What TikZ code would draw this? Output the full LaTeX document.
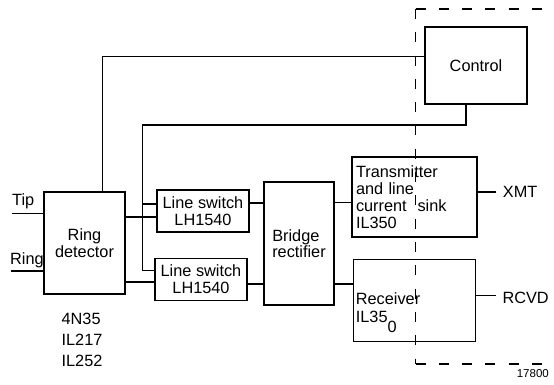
\documentclass[tikz,border=0pt]{standalone}
\usepackage{fontspec}
\setmainfont{Liberation Sans}
\usetikzlibrary{positioning}

\begin{document}
\begin{tikzpicture}[x=1pt, y=-1pt, node distance=20pt,
        block/.style={rectangle, draw, line width=1.2pt, align=center, inner sep=2pt, font=\fontsize{16.3}{16.5}\selectfont},
        tag/.style={inner sep=0pt, font=\fontsize{16.3}{16.5}\selectfont},
        wire/.style={line width=1.2pt},
        border/.style={line width=1.2pt, dash pattern=on 10pt off 13.3pt}]

        \useasboundingbox (0,0) rectangle (554,385);

        \node[block, minimum width=102pt, minimum height=77pt] (ctrl) at (476,65.5) {Control};
        \node[block, minimum width=81pt, minimum height=102pt] (ring) at (84.5,243) {Ring\\detector};
        \node[block, minimum width=92pt, minimum height=42pt, font=\fontsize{16.3}{17.5}\selectfont] (sw1) at (203,211) {Line switch\\LH1540};
        \node[block, minimum width=92pt, minimum height=42pt, font=\fontsize{16.3}{17.5}\selectfont, below=25pt of sw1, xshift=-2pt] (sw2) {Line switch\\LH1540};
        \node[block, minimum width=70pt, minimum height=123pt, align=left] (bridge) at (299,243.5) {Bridge\\rectifier};
        \node[block, minimum width=125pt, minimum height=80pt, align=left, text width=117pt, font=\fontsize{16.3}{17}\selectfont] (tx) at (414.5,197) {Transmitter\\and line\\current\ \ sink\\IL350};
        \node[block, minimum width=122pt, minimum height=82pt, below=21pt of tx] (rx) {};
        \node[tag, anchor=north west, align=left, font=\fontsize{16.3}{17.5}\selectfont] (rxtext) at (355.7,292.5) {Receiver\\IL35\raisebox{-10pt}{0}};

        \node[tag, anchor=base west] (tiplbl) at (12,205) {Tip};
        \node[tag, anchor=base west] (ringlbl) at (10,264.3) {Ring};
        \node[tag, anchor=west] (xmt) at (502.7,192) {XMT};
        \node[tag, anchor=west] (rcvd) at (502.3,297.5) {RCVD};
        \node[tag, align=left, font=\fontsize{16.3}{21}\selectfont] (parts) at (82,340) {4N35\\IL217\\IL252};
        \node[tag, anchor=east, font=\fontsize{11.5}{12}\selectfont] (figno) at (549,374) {17800};

        \coordinate (tipend) at (12,213.7);
        \coordinate (ringend) at (11,271);
        \coordinate (bus) at (142.5,125);
        \coordinate (r1) at ([yshift=26pt]ring.east);
        \coordinate (r2) at ([yshift=-39pt]ring.east);
        \coordinate (s1) at ([yshift=8pt]sw1.east);
        \coordinate (s2) at ([yshift=-4.7pt]sw2.east);
        \coordinate (b1) at ([yshift=-5.7pt]tx.west);
        \coordinate (b2) at ([yshift=16.3pt]rx.west);
        \coordinate (x1) at ([yshift=5pt]tx.east);
        \coordinate (x2) at ([yshift=4.7pt]rx.east);
        \coordinate (xmtend) at ([xshift=-7pt]xmt.west);
        \coordinate (rcvdend) at ([xshift=-6pt]rcvd.west);

        \draw[wire] (tipend) -- (tipend -| ring.west);
        \draw[wire] (ringend) -- (ringend -| ring.west);
        \draw[wire] ([yshift=9pt]ctrl.west) -| ([xshift=18pt]ring.north);
        \draw[wire] ([xshift=-10pt]ctrl.south) |- (bus) |- ([yshift=9pt]sw2.west);
        \draw[wire] ([yshift=7pt]sw1.west) -| (bus);
        \draw[wire] (r1) -- (r1 -| sw1.west);
        \draw[wire] (r2) -- (r2 -| sw2.west);
        \draw[wire] (s1) -- (s1 -| bridge.west);
        \draw[wire] (s2) -- (s2 -| bridge.west);
        \draw[wire] (b1 -| bridge.east) -- (b1);
        \draw[wire] (b2 -| bridge.east) -- (b2);
        \draw[wire] (x1) -- (xmtend);
        \draw[wire] (x2) -- (x2 -| rcvdend);

        \draw[border] (415.5,9) -- (554,9);
        \draw[border] (415.5,9) -- (415.5,364);
        \draw[border] (415.5,364) -- (554,364);
    \end{tikzpicture}
\end{document}
